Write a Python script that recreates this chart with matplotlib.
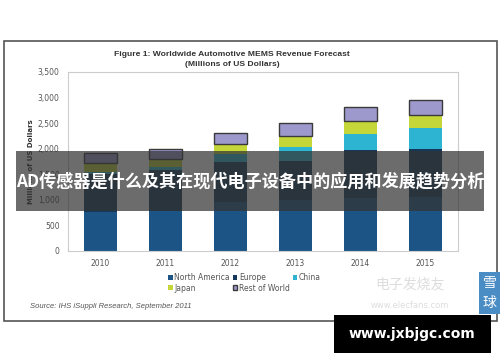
import numpy as np
import matplotlib
matplotlib.use('Agg')
import matplotlib.pyplot as plt
from matplotlib.patches import Rectangle

# values (millions of US dollars)
years = ['2010', '2011', '2012', '2013', '2014', '2015']
north_america = [760, 790, 965, 1000, 1040, 1060]
europe = [742, 790, 783, 769, 935, 930]
china = [50, 70, 150, 274, 310, 411]
japan = [164, 150, 190, 215, 260, 260]
rest_of_world = [196, 190, 215, 243, 261, 294]

series = [
    ('North America', north_america, '#1c5585'),
    ('Europe', europe, '#16385a'),
    ('China', china, '#2db4d2'),
    ('Japan', japan, '#c4d638'),
    ('Rest of World', rest_of_world, '#9d99cc'),
]

W, H = 500, 362
fig = plt.figure(figsize=(W / 100, H / 100), dpi=100)
fig.patch.set_facecolor('white')

def fx(px):
    return px / W

def fy(py):
    return 1 - py / H

# outer frame
fig.add_artist(Rectangle((fx(4), fy(321)), fx(493), 280 / H, transform=fig.transFigure,
                         fill=False, edgecolor='#555555', linewidth=1.2))

ax = fig.add_axes([fx(68), fy(251), fx(390), 179 / H])
x = np.arange(len(years))
bottom = np.zeros(len(years))
handles = {}
for name, vals, col in series:
    if name == 'Rest of World':
        b = ax.bar(x, vals, 0.5, bottom=bottom, color=col, edgecolor='#3a3a3a', linewidth=1.0,
                   label=name)
    else:
        b = ax.bar(x, vals, 0.5, bottom=bottom, color=col, linewidth=0, label=name)
    handles[name] = b
    bottom += np.array(vals)

ax.set_xlim(-0.5, 5.5)
ax.set_ylim(0, 3500)
ax.set_yticks(range(0, 3501, 500))
ax.set_yticklabels(['0', '500', '1,000', '1,500', '2,000', '2,500', '3,000', '3,500'])
ax.set_xticks(x)
ax.set_xticklabels(years)
ax.tick_params(length=0, labelsize=5.5, colors='#555555', pad=6)
ax.tick_params(axis='y', pad=6)
for s in ax.spines.values():
    s.set_color('#cccccc')
    s.set_linewidth(0.8)
ax.set_ylabel('Millions of US Dollars', fontsize=5, fontweight='bold', color='#333333',
              labelpad=3)

fig.text(fx(232), fy(54), 'Figure 1: Worldwide Automotive MEMS Revenue Forecast',
         ha='center', va='center', fontsize=6.1, fontweight='bold', color='#333333',
         family='Liberation Sans')
fig.text(fx(232), fy(65), '(Millions of US Dollars)', ha='center', va='center',
         fontsize=6.1, fontweight='bold', color='#333333', family='Liberation Sans')

# legend filled row by row like the original
order = ['North America', 'Japan', 'Europe', 'Rest of World', 'China']
leg = fig.legend([handles[n] for n in order], order, loc='upper left',
                 bbox_to_anchor=(fx(165), fy(270)), ncol=3, frameon=False,
                 fontsize=5.5, handlelength=0.6, handleheight=0.6, handletextpad=0.2,
                 columnspacing=0.4, labelspacing=0.2, borderaxespad=0)
for t in leg.get_texts():
    t.set_color('#555555')

fig.text(fx(30), fy(307), 'Source: IHS iSuppli Research, September 2011', fontsize=5.5,
         style='italic', color='#555555', va='center', family='Liberation Sans')

# overlay banner
fig.add_artist(Rectangle((fx(16), fy(211)), fx(468), 60 / H, transform=fig.transFigure,
                         facecolor='#333333', alpha=0.72, edgecolor='none', zorder=10))
fig.text(fx(250), fy(181), 'AD传感器是什么及其在现代电子设备中的应用和发展趋势分析',
         ha='center', va='center', fontsize=12.3, fontweight='bold', color='white',
         family=['Noto Sans CJK SC', 'DejaVu Sans'], zorder=11)

# watermarks
fig.text(fx(410), fy(284), '电子发烧友', ha='center', va='center', fontsize=10,
         color='#dddddd', style='italic', family=['Noto Sans CJK SC', 'DejaVu Sans'], zorder=5)
fig.text(fx(410), fy(305), 'www.elecfans.com', ha='center', va='center', fontsize=6,
         color='#dddddd', zorder=5)
fig.add_artist(Rectangle((fx(479), fy(314)), fx(21), 42 / H, transform=fig.transFigure,
                         facecolor='#4a8cc4', edgecolor='none', zorder=12))
fig.text(fx(489.5), fy(283), '雪', ha='center', va='center', fontsize=10, color='white',
         family=['Noto Sans CJK SC'], zorder=13)
fig.text(fx(489.5), fy(303), '球', ha='center', va='center', fontsize=10, color='white',
         family=['Noto Sans CJK SC'], zorder=13)
fig.add_artist(Rectangle((fx(334), fy(353)), fx(157), 38 / H, transform=fig.transFigure,
                         facecolor='black', edgecolor='none', zorder=12))
fig.text(fx(412), fy(334), 'www.jxbjgc.com', ha='center', va='center', fontsize=10,
         fontweight='bold', color='white', zorder=13)

fig.savefig('out.png', dpi=100)
